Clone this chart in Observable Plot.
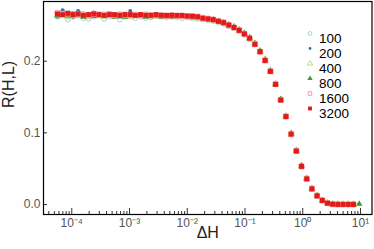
<!DOCTYPE html>
<html><head><meta charset="utf-8">
<script src="https://cdn.jsdelivr.net/npm/d3@7"></script>
<script src="https://cdn.jsdelivr.net/npm/@observablehq/plot@0.6"></script>
<style>body{margin:0;background:#fff}svg{display:block}</style>
</head><body><div id="chart"></div><script>
// ΔH values (x), log spaced
const dH = [5.65e-5,6.95e-5,8.55e-5,1.05e-4,1.29e-4,1.59e-4,1.96e-4,2.41e-4,2.96e-4,3.64e-4,
4.48e-4,5.51e-4,6.78e-4,8.34e-4,1.03e-3,1.26e-3,1.55e-3,1.91e-3,2.35e-3,2.89e-3,
3.55e-3,4.37e-3,5.38e-3,6.61e-3,8.13e-3,1.00e-2,1.23e-2,1.51e-2,1.86e-2,2.29e-2,
2.82e-2,3.47e-2,4.26e-2,5.24e-2,6.45e-2,7.93e-2,9.76e-2,0.120,0.148,0.182,
0.223,0.275,0.338,0.415,0.511,0.629,0.773,0.951,1.17,1.44,
1.77,2.18,2.68,3.29,4.05,4.98,6.13,7.54,9.5];

const sizes = [100, 200, 400, 800, 1600, 3200];

const R100 = [0.262,0.268,0.258,0.262,0.268,0.260,0.259,0.262,0.265,0.259,0.262,0.263,0.258,0.262,0.265,0.260,0.262,0.260,0.261,0.263,0.262,0.261,0.262,0.261,0.260,0.261,0.260,0.259,
0.258,0.257,0.256,0.254,0.252,0.249,0.246,0.242,0.237,0.231,0.223,0.213,0.201,0.186,0.168,0.146,0.123,0.099,0.075,0.054,0.036,0.022,0.0125,0.006,0.002,0.0006,0.0002,0.0001,0.0001,0.0001];
const R200 = [0.262,0.271,0.266,0.262,0.270,0.263,0.264,0.268,0.266,0.263,0.265,0.266,0.262,0.264,0.270,0.263,0.265,0.264,0.263,0.266,0.264,0.263,0.265,0.264,0.263,0.263,0.262,0.262,
0.260,0.259,0.257,0.255,0.253,0.250,0.247,0.243,0.238,0.232,0.224,0.213,0.201,0.186,0.168,0.146,0.123,0.098,0.075,0.053,0.036,0.022,0.012,0.0058,0.0019,0.0005,0.0001,0.0001,0.0001,0.0001];
const R400 = [0.263,0.265,0.262,0.264,0.263,0.265,0.262,0.264,0.263,0.262,0.264,0.263,0.264,0.263,0.262,0.263,0.264,0.263,0.262,0.263,0.263,0.262,0.263,0.262,0.262,0.262,0.261,0.260,
0.259,0.258,0.257,0.255,0.253,0.250,0.247,0.243,0.238,0.232,0.224,0.214,0.202,0.186,0.168,0.146,0.123,0.099,0.075,0.054,0.036,0.022,0.012,0.0057,0.0019,0.0005,0.0001,0.0001,0.0001,0.0001];
const R800 = [0.264,0.264,0.263,0.265,0.264,0.262,0.264,0.263,0.264,0.263,0.264,0.262,0.263,0.262,0.264,0.263,0.263,0.262,0.263,0.263,0.262,0.263,0.262,0.262,0.262,0.262,0.261,0.261,
0.260,0.259,0.258,0.256,0.254,0.251,0.248,0.244,0.239,0.233,0.225,0.214,0.202,0.187,0.168,0.147,0.123,0.099,0.075,0.054,0.036,0.022,0.0122,0.0057,0.0019,0.0005,0.0002,0.0001,0.0001,0.0001,0.0008];
const R1600 = [0.267,0.266,0.265,0.266,0.266,0.265,0.264,0.266,0.265,0.265,0.266,0.264,0.265,0.265,0.264,0.265,0.264,0.265,0.264,0.264,0.264,0.263,0.264,0.263,0.263,0.263,0.262,0.262,
0.260,0.259,0.258,0.256,0.254,0.250,0.247,0.243,0.238,0.232,0.224,0.213,0.201,0.186,0.168,0.146,0.123,0.098,0.075,0.053,0.036,0.022,0.0121,0.0056,0.0018,0.0004,0.0001,0.0001,0.0001,0.0001];
const R3200 = [0.266,0.265,0.267,0.265,0.266,0.264,0.265,0.266,0.265,0.264,0.265,0.265,0.264,0.265,0.265,0.264,0.265,0.264,0.264,0.265,0.264,0.264,0.264,0.264,0.264,0.263,0.263,0.262,
0.260,0.259,0.258,0.2556,0.2537,0.2504,0.247,0.243,0.238,0.232,0.2236,0.2134,0.201,0.1857,0.1676,0.1458,0.1226,0.0982,0.0745,0.0532,0.0357,0.0218,0.0121,0.0056,0.0018,0.0004,0.0001,0.0001,0.0001,0.0001];

const xTicks = [1e-4, 1e-3, 1e-2, 1e-1, 1, 10];
const xTickLabels = ["10⁻⁴", "10⁻³", "10⁻²", "10⁻¹", "10⁰", "10¹"];
const yTicks = [0, 0.1, 0.2];
const yTickLabels = ["0.0", "0.1", "0.2"];

const series = [R100, R200, R400, R800, R1600, R3200];
const styles = [
  {symbol: "circle",   fill: "none",    stroke: "#a6cee3", r: 2.4, lr: 1.9},
  {symbol: "circle",   fill: "#1f78b4", stroke: "none",    r: 2.0, lr: 1.4},
  {symbol: "triangle", fill: "none",    stroke: "#b2df8a", r: 2.4, lr: 2.0},
  {symbol: "triangle", fill: "#33a02c", stroke: "none",    r: 2.4, lr: 2.0},
  {symbol: "square",   fill: "none",    stroke: "#fb9a99", r: 2.8, lr: 2.0},
  {symbol: "square",   fill: "#e31a1c", stroke: "none",    r: 2.8, lr: 2.2}
];

const minorTicks = xTicks.flatMap(t => [2,3,4,5,6,7,8,9].map(m => m * t / 10)).concat([2,3,4,5,6,7,8,9].map(m => m * 10)).filter(v => v > 3.24e-5 && v < 15.8);

const marks = [];
series.forEach((vals, i) => {
  const s = styles[i];
  const rows = vals.map((v, k) => ({dH: dH[k], R: v, L: sizes[i]}));
  marks.push(Plot.dot(rows, {x: "dH", y: "R", symbol: () => s.symbol, r: s.r, fill: s.fill, stroke: s.stroke, strokeWidth: 1}));
});
sizes.forEach((L, i) => {
  const s = styles[i];
  marks.push(Plot.dot([L], {frameAnchor: "top-right", dx: -62, dy: 32 + 15 * i, symbol: () => s.symbol, r: s.lr, fill: s.fill, stroke: s.stroke, strokeWidth: 1}));
  marks.push(Plot.text([L], {frameAnchor: "top-right", dx: -53, dy: 32 + 15 * i, text: d => String(d), textAnchor: "start", fontSize: 13.5, fill: "black"}));
});

const chart = Plot.plot({
  width: 374, height: 249,
  marginLeft: 43, marginRight: 2.5, marginTop: 1, marginBottom: 35,
  style: {fontFamily: "'Liberation Sans', Arial, sans-serif", background: "white"},
  x: {type: "log", domain: [3.24e-5, 15.8]},
  y: {domain: [-0.01396, 0.2833]},
  marks: [
    ...marks,
    Plot.axisX({ticks: minorTicks, tickSize: -3, text: null, label: null, stroke: "#333"}),
    Plot.axisX({ticks: xTicks, tickSize: -6, text: null, label: null, stroke: "#333"}),
    Plot.axisX({ticks: xTicks, tickSize: 0, tickPadding: 4, tickFormat: (d, i) => xTickLabels[xTicks.indexOf(d)], label: null, fontSize: 12, fill: "#555"}),
    Plot.axisY({ticks: yTicks, tickSize: -4, text: null, label: null, stroke: "#333"}),
    Plot.axisY({ticks: yTicks, tickSize: 0, tickPadding: 3, tickFormat: d => yTickLabels[yTicks.indexOf(d)], label: null, fontSize: 12, fill: "#555"}),
    Plot.frame({stroke: "black", strokeWidth: 1.2}),
    Plot.text(["R(H,L)"], {frameAnchor: "left", dx: -35, rotate: -90, fontSize: 16, fill: "#222"}),
    Plot.text(["ΔH"], {frameAnchor: "bottom", dy: 23, fontSize: 16, fill: "#222"})
  ]
});
document.getElementById("chart").appendChild(chart);
</script></body></html>
